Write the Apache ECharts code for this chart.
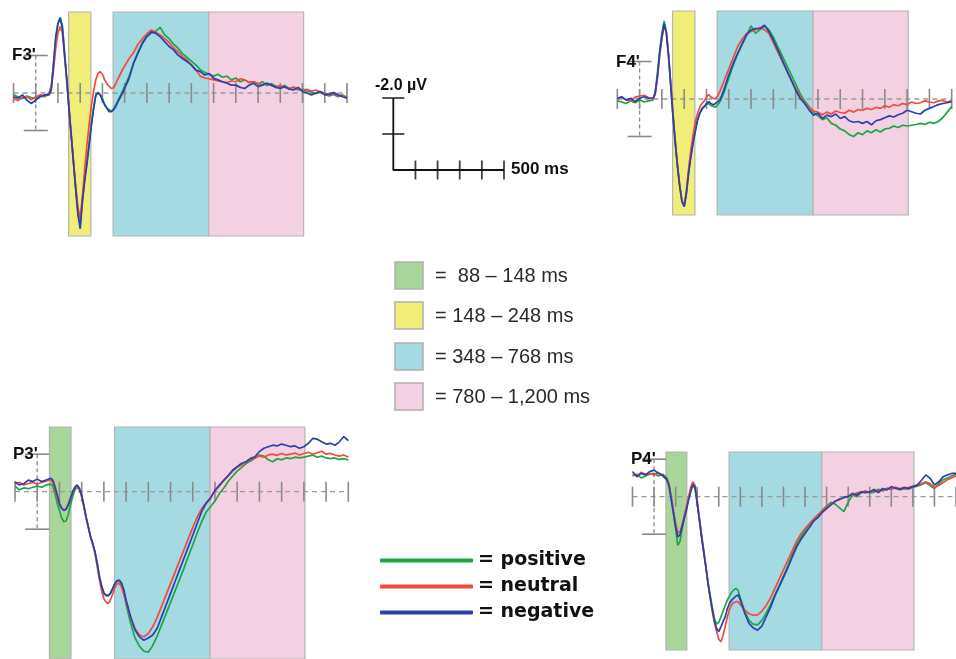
<!DOCTYPE html>
<html>
<head>
<meta charset="utf-8">
<script src="https://cdn.jsdelivr.net/npm/echarts@6/dist/echarts.min.js"></script>
<style>
  html, body { margin: 0; padding: 0; background: #fff; }
  #chart { width: 956px; height: 659px; }
</style>
</head>
<body>
<div id="chart"></div>
<script>
// time points (ms); finer steps around the early components
const times = [
  -100, -80, -60, -40, -20, 0, 20, 40, 60,
  70, 80, 90, 100, 110, 120, 130, 140, 150, 160, 170, 180, 190, 200, 210, 220, 230,
  240, 250, 260, 270, 280, 290, 300, 310, 320, 330, 340, 350, 360, 370, 380, 390, 400,
  420, 440, 460, 480, 500, 520, 540, 560, 580, 600, 620, 640, 660, 680, 700, 720, 740, 760, 780, 800, 820, 840, 860, 880, 900,
  920, 940, 960, 980, 1000, 1020, 1040, 1060, 1080, 1100, 1120, 1140, 1160, 1180, 1200, 1220, 1240, 1260, 1280, 1300, 1320, 1340, 1360, 1380, 1400
];
const timeTicks = [-100, 0, 100, 200, 300, 400, 500, 600, 700, 800, 900, 1000, 1100, 1200, 1300, 1400];
const calibUV = [-1, 1];

// amplitudes in µV (negative is drawn upward)
const f3Positive = [
  0.05, 0.1, 0.15, 0.08, 0.12, 0.15, 0.08, 0.1, 0.02,
  -0.2, -0.75, -1.45, -1.85, -2.02, -1.8, -1.1, -0.3, 0.45, 1.15, 1.85, 2.55, 3.2, 3.5, 2.85, 2.3, 1.85,
  1.35, 0.85, 0.4, 0.08, -0.02, 0.05, 0.15, 0.3, 0.4, 0.45, 0.48, 0.42, 0.32, 0.2, 0.08, -0.05, -0.18,
  -0.45, -0.8, -1.1, -1.35, -1.5, -1.6, -1.65, -1.75, -1.55, -1.45, -1.3, -1.2, -1.05, -0.95, -0.85, -0.75, -0.62, -0.55, -0.5, -0.45, -0.5, -0.42, -0.45, -0.35, -0.4,
  -0.3, -0.35, -0.28, -0.3, -0.24, -0.3, -0.2, -0.25, -0.18, -0.15, -0.2, -0.12, -0.15, -0.08, -0.1, -0.05, -0.02, 0.02, -0.02, 0.04, 0.08, 0.04, 0.1, 0.05, 0.12
];
const f3Neutral = [
  0.15, 0.2, 0.12, 0.1, 0.18, 0.1, 0.05, 0.08, 0.0,
  -0.15, -0.6, -1.2, -1.6, -1.77, -1.6, -1.0, -0.3, 0.45, 1.15, 1.85, 2.5, 3.05, 3.35, 2.75, 2.05, 1.4,
  0.85, 0.35, -0.05, -0.35, -0.52, -0.57, -0.5, -0.35, -0.25, -0.18, -0.12, -0.14, -0.25, -0.38, -0.5, -0.62, -0.72,
  -0.92, -1.08, -1.3, -1.45, -1.58, -1.68, -1.62, -1.55, -1.45, -1.35, -1.2, -1.1, -0.97, -0.88, -0.75, -0.62, -0.45, -0.4, -0.38, -0.35, -0.32, -0.3, -0.28, -0.32, -0.3,
  -0.38, -0.35, -0.28, -0.3, -0.25, -0.22, -0.26, -0.2, -0.17, -0.2, -0.15, -0.12, -0.16, -0.1, -0.08, -0.1, -0.05, -0.08, -0.03, 0.0, 0.05, 0.02, 0.08, 0.06, 0.12
];
const f3Negative = [
  0.1, 0.14, 0.05, 0.19, 0.28, 0.19, 0.1, 0.05, 0.05,
  -0.08, -0.79, -1.5, -1.86, -1.99, -1.72, -0.97, -0.35, 0.45, 1.16, 1.88, 2.59, 3.25, 3.62, 2.9, 2.36, 1.91,
  1.4, 0.88, 0.44, 0.05, 0.0, 0.05, 0.19, 0.32, 0.41, 0.5, 0.5, 0.45, 0.36, 0.23, 0.12, 0.01, -0.12,
  -0.39, -0.79, -1.06, -1.32, -1.52, -1.63, -1.59, -1.5, -1.37, -1.24, -1.15, -1.01, -0.92, -0.84, -0.75, -0.61, -0.57, -0.48, -0.52, -0.39, -0.35, -0.3, -0.26, -0.21, -0.21,
  -0.15, -0.12, -0.21, -0.26, -0.17, -0.21, -0.26, -0.21, -0.15, -0.12, -0.17, -0.1, -0.08, -0.15, -0.04, 0.0, 0.05, 0.0, -0.04, 0.05, 0.03, -0.01, 0.05, 0.1, 0.14
];

const f4Positive = [
  0.05, 0.08, 0.12, 0.05, 0.1, 0.02, 0.08, 0.05, 0.03,
  -0.2, -0.7, -1.3, -1.75, -2.08, -1.8, -1.15, -0.35, 0.45, 1.15, 1.8, 2.3, 2.7, 2.85, 2.5, 1.95, 1.5,
  1.1, 0.8, 0.55, 0.38, 0.28, 0.2, 0.15, 0.12, 0.18, 0.2, 0.22, 0.15, 0.08, -0.05, -0.2, -0.38, -0.55,
  -0.9, -1.2, -1.45, -1.7, -1.95, -1.75, -1.85, -1.95, -1.85, -1.65, -1.4, -1.15, -0.9, -0.65, -0.4, -0.15, 0.05, 0.2, 0.35, 0.45, 0.55, 0.5, 0.65, 0.7, 0.8,
  0.85, 0.95, 1.0, 0.9, 0.95, 0.85, 0.9, 0.82, 0.88, 0.8, 0.78, 0.72, 0.76, 0.7, 0.72, 0.7, 0.68, 0.65, 0.68, 0.62, 0.65, 0.6, 0.5, 0.35, 0.2
];
const f4Neutral = [
  0.0, -0.04, 0.02, 0.05, -0.05, -0.08, -0.1, -0.04, 0.0,
  -0.12, -0.55, -1.15, -1.6, -1.95, -1.8, -1.2, -0.4, 0.4, 1.1, 1.75, 2.3, 2.72, 2.85, 2.45, 1.85, 1.35,
  0.95, 0.6, 0.38, 0.22, 0.12, 0.05, -0.05, -0.12, -0.05, -0.02, 0.0, -0.08, -0.2, -0.35, -0.5, -0.65, -0.8,
  -1.1, -1.4, -1.6, -1.75, -1.8, -1.85, -1.9, -1.85, -1.75, -1.5, -1.25, -1.0, -0.75, -0.5, -0.28, -0.08, 0.1, 0.22, 0.32, 0.35, 0.42, 0.35, 0.4, 0.32, 0.36,
  0.38, 0.3, 0.35, 0.28, 0.3, 0.25, 0.28, 0.22, 0.25, 0.18, 0.22, 0.15, 0.18, 0.12, 0.15, 0.08, 0.12, 0.1, 0.05, 0.08, 0.1, 0.05, 0.04, 0.08, 0.04
];
const f4Negative = [
  -0.02, -0.06, 0.03, -0.02, 0.07, -0.02, -0.06, -0.02, -0.02,
  -0.15, -0.6, -1.22, -1.66, -2.0, -1.75, -1.13, -0.33, 0.47, 1.18, 1.8, 2.34, 2.74, 2.87, 2.52, 1.98, 1.54,
  1.18, 0.87, 0.56, 0.38, 0.25, 0.2, 0.12, 0.07, 0.12, 0.16, 0.12, 0.07, 0.03, -0.11, -0.28, -0.46, -0.64,
  -0.95, -1.22, -1.48, -1.71, -1.84, -1.88, -1.88, -1.97, -1.8, -1.57, -1.31, -1.04, -0.77, -0.51, -0.24, -0.02, 0.12, 0.29, 0.43, 0.38, 0.52, 0.43, 0.47, 0.4, 0.52,
  0.47, 0.58, 0.62, 0.6, 0.65, 0.6, 0.69, 0.58, 0.55, 0.5, 0.45, 0.48, 0.42, 0.38, 0.3, 0.34, 0.38, 0.4, 0.3, 0.25, 0.2, 0.15, 0.12, 0.1, 0.07
];

const p3Positive = [
  -0.15, -0.05, -0.1, -0.08, -0.12, -0.15, -0.12, -0.18, -0.2,
  -0.15, 0.05, 0.3, 0.5, 0.7, 0.8, 0.78, 0.6, 0.35, 0.12, -0.05, -0.12, -0.05, 0.12, 0.4, 0.7, 0.95,
  1.2, 1.4, 1.62, 1.92, 2.25, 2.5, 2.7, 2.78, 2.78, 2.7, 2.58, 2.45, 2.38, 2.38, 2.5, 2.7, 3.0,
  3.5, 3.9, 4.12, 4.25, 4.28, 4.1, 3.85, 3.55, 3.25, 2.95, 2.65, 2.35, 2.05, 1.72, 1.42, 1.1, 0.8, 0.55, 0.4, 0.25, 0.05, -0.1, -0.28, -0.42, -0.55,
  -0.65, -0.75, -0.82, -0.9, -0.98, -0.95, -0.85, -0.8, -0.88, -0.85, -0.9, -0.88, -0.92, -0.9, -0.92, -0.95, -0.98, -0.92, -0.95, -0.9, -0.88, -0.9, -0.86, -0.88, -0.85
];
const p3Neutral = [
  -0.2, -0.25, -0.18, -0.22, -0.25, -0.2, -0.25, -0.28, -0.32,
  -0.25, -0.05, 0.15, 0.35, 0.45, 0.5, 0.45, 0.32, 0.15, -0.02, -0.12, -0.15, -0.05, 0.12, 0.4, 0.7, 0.95,
  1.2, 1.4, 1.65, 2.0, 2.35, 2.65, 2.85, 2.95, 2.98, 2.88, 2.72, 2.55, 2.45, 2.45, 2.55, 2.75, 2.95,
  3.35, 3.65, 3.82, 3.87, 3.78, 3.6, 3.35, 3.05, 2.75, 2.45, 2.15, 1.85, 1.55, 1.25, 0.95, 0.68, 0.45, 0.3, 0.15, -0.02, -0.15, -0.3, -0.42, -0.55, -0.65,
  -0.72, -0.8, -0.85, -0.9, -0.95, -0.92, -0.98, -1.0, -0.97, -1.02, -0.98, -1.0, -1.03, -0.98, -1.02, -1.05, -1.0, -1.04, -1.08, -1.0, -1.02, -0.98, -0.95, -0.98, -0.92
];
const p3Negative = [
  -0.27, -0.18, -0.22, -0.31, -0.27, -0.33, -0.27, -0.31, -0.36,
  -0.31, -0.13, 0.09, 0.31, 0.44, 0.5, 0.47, 0.36, 0.18, 0.0, -0.13, -0.18, -0.09, 0.09, 0.36, 0.67, 0.93,
  1.2, 1.38, 1.6, 1.91, 2.27, 2.53, 2.71, 2.76, 2.76, 2.71, 2.58, 2.44, 2.37, 2.36, 2.44, 2.62, 2.89,
  3.33, 3.69, 3.87, 3.96, 3.9, 3.82, 3.64, 3.33, 3.02, 2.71, 2.4, 2.09, 1.78, 1.47, 1.16, 0.84, 0.53, 0.31, 0.18, -0.04, -0.18, -0.31, -0.44, -0.58, -0.67,
  -0.76, -0.8, -0.89, -0.93, -1.07, -1.16, -1.2, -1.24, -1.22, -1.27, -1.24, -1.2, -1.22, -1.16, -1.2, -1.29, -1.42, -1.4, -1.33, -1.27, -1.29, -1.24, -1.33, -1.47, -1.36
];

const p4Positive = [
  -0.55, -0.6, -0.5, -0.55, -0.6, -0.62, -0.55, -0.6, -0.5,
  -0.32, 0.05, 0.45, 0.85, 1.3, 1.2, 0.85, 0.55, 0.3, 0.05, -0.18, -0.3, -0.22, 0.15, 0.6, 1.05, 1.45,
  1.85, 2.28, 2.62, 2.95, 3.25, 3.4, 3.35, 3.2, 3.05, 2.9, 2.75, 2.65, 2.55, 2.48, 2.45, 2.5, 2.7,
  3.05, 3.3, 3.4, 3.42, 3.3, 3.1, 2.88, 2.62, 2.38, 2.12, 1.85, 1.55, 1.28, 1.08, 0.9, 0.75, 0.62, 0.5, 0.36, 0.25, 0.15, 0.2, 0.3, 0.4, 0.15,
  -0.05, 0.0, -0.1, -0.15, -0.1, -0.12, -0.2, -0.15, -0.22, -0.2, -0.25, -0.18, -0.22, -0.2, -0.25, -0.28, -0.32, -0.38, -0.3, -0.22, -0.35, -0.45, -0.5, -0.55, -0.6
];
const p4Neutral = [
  -0.6, -0.55, -0.65, -0.6, -0.62, -0.58, -0.65, -0.55, -0.45,
  -0.3, 0.02, 0.38, 0.72, 0.95, 0.95, 0.75, 0.5, 0.25, 0.0, -0.25, -0.4, -0.3, 0.1, 0.55, 1.0, 1.42,
  1.85, 2.3, 2.7, 3.05, 3.35, 3.6, 3.8, 3.87, 3.7, 3.45, 3.2, 3.0, 2.88, 2.82, 2.8, 2.8, 2.88,
  3.02, 3.12, 3.16, 3.15, 3.05, 2.9, 2.7, 2.45, 2.2, 1.95, 1.7, 1.45, 1.2, 1.0, 0.85, 0.72, 0.6, 0.48, 0.38, 0.28, 0.2, 0.12, 0.08, 0.02, -0.02,
  -0.05, -0.1, -0.12, -0.15, -0.12, -0.2, -0.15, -0.18, -0.22, -0.2, -0.25, -0.22, -0.2, -0.25, -0.28, -0.3, -0.35, -0.4, -0.35, -0.25, -0.3, -0.38, -0.45, -0.5, -0.55
];
const p4Negative = [
  -0.67, -0.53, -0.62, -0.58, -0.67, -0.71, -0.62, -0.58, -0.44,
  -0.27, 0.09, 0.44, 0.8, 1.07, 1.02, 0.8, 0.58, 0.36, 0.09, -0.13, -0.33, -0.25, 0.18, 0.62, 1.07, 1.47,
  1.87, 2.31, 2.67, 3.02, 3.33, 3.51, 3.6, 3.47, 3.33, 3.2, 2.98, 2.84, 2.76, 2.7, 2.65, 2.62, 2.75,
  3.1, 3.38, 3.5, 3.56, 3.45, 3.2, 2.95, 2.65, 2.4, 2.15, 1.9, 1.62, 1.35, 1.15, 0.98, 0.82, 0.65, 0.55, 0.42, 0.32, 0.22, 0.12, 0.06, 0.02, 0.0,
  -0.09, -0.04, -0.13, -0.11, -0.13, -0.18, -0.11, -0.22, -0.18, -0.27, -0.22, -0.2, -0.25, -0.22, -0.27, -0.31, -0.44, -0.58, -0.49, -0.31, -0.4, -0.53, -0.58, -0.62, -0.62
];

// analysis windows (ms) as drawn in each panel
const frontalWindows = [[148, 248], [348, 778], [778, 1205]];
const parietalWindows = [[55, 152], [348, 778], [778, 1205]];
const windowLabels = ['=  88 – 148 ms', '= 148 – 248 ms', '= 348 – 768 ms', '= 780 – 1,200 ms'];
const conditions = ['positive', 'neutral', 'negative'];

// scale bar
const scaleMs = 500;
const scaleUV = -2;
const scaleMsTicks = [100, 200, 300, 400, 500];
const scaleUVTicks = [-2, -1];

const GREEN = '#a8d69a', YELLOW = '#f0ed78', CYAN = '#a6dae2', PINK = '#f3d0e2';
const lineColors = ['#1ea444', '#f24a3c', '#2b3fae'];
const pxPerUV = 37.5;

const panels = [
  { label: "F3'", series: [f3Positive, f3Neutral, f3Negative], windows: frontalWindows, colors: [YELLOW, CYAN, PINK],
    left: 13.5, width: 333.5, top: 12, height: 224, base: 93, lx: 12, ly: 55 },
  { label: "F4'", series: [f4Positive, f4Neutral, f4Negative], windows: frontalWindows, colors: [YELLOW, CYAN, PINK],
    left: 617.3, width: 334.4, top: 11, height: 204, base: 99, lx: 616, ly: 62 },
  { label: "P3'", series: [p3Positive, p3Neutral, p3Negative], windows: parietalWindows, colors: [GREEN, CYAN, PINK],
    left: 15, width: 333.3, top: 427, height: 232, base: 491.7, lx: 13, ly: 454 },
  { label: "P4'", series: [p4Positive, p4Neutral, p4Negative], windows: parietalWindows, colors: [GREEN, CYAN, PINK],
    left: 632.5, width: 333.3, top: 452, height: 198, base: 496.7, lx: 631, ly: 459 }
];

const grid = [], xAxis = [], yAxis = [], series = [], graphic = [];

panels.forEach(function (p, i) {
  grid.push({ left: p.left, top: p.top, width: p.width, height: p.height });
  xAxis.push({ gridIndex: i, type: 'value', min: -100, max: 1400, show: false });
  yAxis.push({ gridIndex: i, type: 'value', inverse: true, show: false,
    min: -(p.base - p.top) / pxPerUV, max: (p.top + p.height - p.base) / pxPerUV });

  // time axis: dashed baseline with crossing ticks, plus shaded windows
  series.push({
    type: 'line', xAxisIndex: i, yAxisIndex: i, silent: true, clip: false, z: 3,
    data: timeTicks.map(function (t) { return [t, 0]; }),
    symbol: 'rect', symbolSize: [1.6, 20], showSymbol: true, showAllSymbol: true,
    itemStyle: { color: '#8a8a8a', borderWidth: 0 },
    lineStyle: { color: '#9a9a9a', width: 1.3, type: [5, 4] },
    markArea: {
      silent: true,
      itemStyle: { borderColor: '#b4b4b4', borderWidth: 1.2 },
      data: p.windows.map(function (w, k) {
        return [{ xAxis: w[0], itemStyle: { color: p.colors[k] } }, { xAxis: w[1] }];
      })
    }
  });
  // onset marker with ±1 µV calibration ticks
  series.push({
    type: 'line', xAxisIndex: i, yAxisIndex: i, silent: true, clip: false, z: 3,
    data: calibUV.map(function (v) { return [0, v]; }),
    symbol: 'rect', symbolSize: [24, 1.6], showSymbol: true,
    itemStyle: { color: '#8a8a8a', borderWidth: 0 },
    lineStyle: { color: '#8a8a8a', width: 1.3, type: [4, 3] }
  });
  p.series.forEach(function (vals, k) {
    series.push({
      name: conditions[k], type: 'line', xAxisIndex: i, yAxisIndex: i, clip: false, z: 4 + k,
      data: times.map(function (t, j) { return [t, vals[j]]; }),
      showSymbol: false, symbol: 'none', silent: true,
      itemStyle: { color: lineColors[k] },
      lineStyle: { color: lineColors[k], width: 1.7 }
    });
  });
  graphic.push({
    type: 'text', z: 10,
    style: { x: p.lx, y: p.ly, text: p.label, verticalAlign: 'middle', align: 'left',
      font: 'bold 17px "Liberation Sans", Arial, sans-serif', fill: '#111' }
  });
});

// scale bar grid
const sb = panels.length;
grid.push({ left: 393.3, top: 98, width: 110.7, height: 72 });
xAxis.push({ gridIndex: sb, type: 'value', min: 0, max: scaleMs, show: false });
yAxis.push({ gridIndex: sb, type: 'value', inverse: true, min: scaleUV, max: 0, show: false });
series.push({
  type: 'line', xAxisIndex: sb, yAxisIndex: sb, silent: true, clip: false, symbol: 'none',
  data: [[0, scaleUV], [0, 0], [scaleMs, 0]],
  lineStyle: { color: '#111', width: 1.8 }
});
series.push({
  type: 'scatter', xAxisIndex: sb, yAxisIndex: sb, silent: true, clip: false,
  data: scaleMsTicks.map(function (t) { return [t, 0]; }),
  symbol: 'rect', symbolSize: [1.8, 19], itemStyle: { color: '#111' }
});
series.push({
  type: 'scatter', xAxisIndex: sb, yAxisIndex: sb, silent: true, clip: false,
  data: scaleUVTicks.map(function (v) { return [0, v]; }),
  symbol: 'rect', symbolSize: [22, 1.8], itemStyle: { color: '#111' }
});
graphic.push({ type: 'text', style: { x: 375, y: 86, text: '-2.0 µV', verticalAlign: 'middle',
  font: 'bold 16px "Liberation Sans", Arial, sans-serif', fill: '#111' } });
graphic.push({ type: 'text', style: { x: 511, y: 169, text: scaleMs + ' ms', verticalAlign: 'middle',
  font: 'bold 17px "Liberation Sans", Arial, sans-serif', fill: '#111' } });

// window colour key
const keyColors = [GREEN, YELLOW, CYAN, PINK];
const keyTops = [262, 302, 343, 383];
windowLabels.forEach(function (txt, k) {
  graphic.push({ type: 'rect', shape: { x: 395, y: keyTops[k], width: 28, height: 27 },
    style: { fill: keyColors[k], stroke: '#b0b0b0', lineWidth: 1.5 } });
  graphic.push({ type: 'text', style: { x: 435, y: keyTops[k] + 14, text: txt, verticalAlign: 'middle',
    font: '20px "Liberation Sans", Arial, sans-serif', fill: '#2a2a2a' } });
});

const chart = echarts.init(document.getElementById('chart'));
chart.setOption({
  animation: false,
  backgroundColor: '#fff',
  grid: grid,
  xAxis: xAxis,
  yAxis: yAxis,
  legend: {
    data: conditions, orient: 'vertical', left: 375, top: 546,
    itemWidth: 93, itemHeight: 4, itemGap: 7, icon: 'roundRect', selectedMode: false,
    formatter: '= {name}',
    textStyle: { fontFamily: 'DejaVu Sans', fontWeight: 'bold', fontSize: 19, color: '#111' }
  },
  graphic: graphic,
  series: series
});
</script>
</body>
</html>
